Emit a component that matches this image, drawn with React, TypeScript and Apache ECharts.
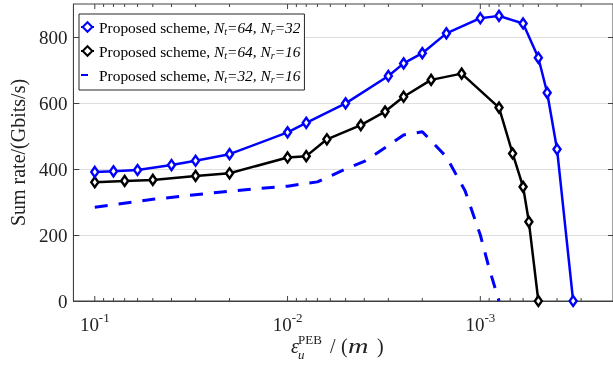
import React, { useEffect, useRef } from 'react';
import * as echarts from 'echarts';

// ---- data ----
const seriesNames = [
  'Proposed scheme, Nt=64, Nr=32',
  'Proposed scheme, Nt=64, Nr=16',
  'Proposed scheme, Nt=32, Nr=16',
];
const ntValues = [64, 64, 32];
const nrValues = [32, 16, 16];

const blueX = [0.1, 0.08, 0.06, 0.04, 0.03, 0.02, 0.01, 0.008, 0.005, 0.003, 0.0025, 0.002, 0.0015, 0.001, 0.0008, 0.0006, 0.0005, 0.00045, 0.0004, 0.00033];
const blueY = [391, 393, 397, 412, 425, 445, 511, 540, 599, 682, 720, 751, 811, 857, 864, 841, 737, 631, 460, 0];

const blackX = [0.1, 0.07, 0.05, 0.03, 0.02, 0.01, 0.008, 0.00625, 0.00417, 0.00312, 0.0025, 0.0018, 0.00125, 0.0008, 0.00068, 0.0006, 0.00056, 0.0005];
const blackY = [360, 364, 367, 379, 387, 435, 439, 490, 533, 574, 619, 670, 689, 586, 447, 346, 240, 0];

const dashX = [0.1, 0.05, 0.02, 0.01, 0.007, 0.005, 0.004, 0.003, 0.0025, 0.002, 0.0015, 0.0012, 0.001, 0.0009, 0.0008];
const dashY = [284, 308, 333, 348, 361, 400, 423, 471, 503, 513, 437, 334, 200, 99, 0];

const majorTicks = [0.1, 0.01, 0.001];
const minorTicks = [
  0.09, 0.08, 0.07, 0.06, 0.05, 0.04, 0.03, 0.02,
  0.009, 0.008, 0.007, 0.006, 0.005, 0.004, 0.003, 0.002,
  0.0009, 0.0008, 0.0007, 0.0006, 0.0005, 0.0004, 0.0003,
];
const yTicks = [0, 200, 400, 600, 800];

const X_MIN = 0.000205;
const X_MAX = 0.1291;
const Y_MIN = 0;
const Y_MAX = 900;
const FONT = 'Liberation Serif';
const AX = '#404040';

export default function App() {
  const ref = useRef<HTMLDivElement>(null);
  useEffect(() => {
    if (!ref.current) return;
    const chart = echarts.init(ref.current, null, { renderer: 'svg' });

    const tickLine = { color: AX, width: 1 };
    const tickData = [
      ...majorTicks.map((v) => [v, 1]),
      ...minorTicks.map((v) => [v, 0]),
    ];

    const option: any = {
      animation: false,
      grid: { left: 65, right: 0, top: 4, bottom: 65, show: true, borderColor: AX, borderWidth: 1, backgroundColor: 'transparent' },
      legend: {
        orient: 'vertical',
        left: 79,
        top: 14,
        padding: [3, 4, 5, 1],
        itemGap: 4,
        itemWidth: 13,
        itemHeight: 12,
        backgroundColor: '#fff',
        borderColor: '#262626',
        borderWidth: 1,
        data: [
          { name: seriesNames[0] },
          { name: seriesNames[1] },
          { name: seriesNames[2], itemStyle: { opacity: 0 }, lineStyle: { type: [7, 10] } },
        ],
        formatter: (name: string) => {
          const i = seriesNames.indexOf(name);
          return `Proposed scheme, {i|N}{s|t}{i|=${ntValues[i]}, N}{s|r}{i|=${nrValues[i]}}`;
        },
        textStyle: {
          fontFamily: FONT,
          fontSize: 15.4,
          color: '#000',
          lineHeight: 20,
          rich: {
            i: { fontFamily: FONT, fontSize: 15.4, fontStyle: 'italic', lineHeight: 20, color: '#000' },
            s: { fontFamily: FONT, fontSize: 10, fontStyle: 'italic', lineHeight: 12, padding: [8, 0, 0, 0], color: '#000' },
          },
        },
      },
      xAxis: [
        {
          type: 'log',
          logBase: 10,
          min: X_MIN,
          max: X_MAX,
          inverse: true,
          position: 'bottom',
          splitLine: { show: false },
          minorTick: { show: false },
          axisLine: { show: true, onZero: false, lineStyle: tickLine },
          axisTick: { show: false },
          axisLabel: {
            show: true,
            customValues: majorTicks,
            margin: 10,
            formatter: (v: number) => `{b|10}{e|${Math.round(Math.log10(v))}}`,
            rich: {
              b: { fontFamily: FONT, fontSize: 19, lineHeight: 26, color: '#222' },
              e: { fontFamily: FONT, fontSize: 13, lineHeight: 13, padding: [0, 0, 13, 0], color: '#222' },
            },
          },
        },
      ],
      yAxis: [
        {
          type: 'value',
          position: 'left',
          min: Y_MIN,
          max: Y_MAX,
          interval: 200,
          name: 'Sum rate/(Gbits/s)',
          nameLocation: 'middle',
          nameGap: 42,
          nameTextStyle: { fontFamily: FONT, fontSize: 20, color: '#222' },
          axisLine: { show: true, onZero: false, lineStyle: tickLine },
          axisTick: { show: true, inside: true, length: 6, customValues: yTicks, lineStyle: tickLine },
          axisLabel: { customValues: yTicks, fontFamily: FONT, fontSize: 19, color: '#222', margin: 6 },
          splitLine: { show: true, lineStyle: { color: '#dedede', width: 1 } },
        },
        {
          type: 'value',
          position: 'right',
          min: Y_MIN,
          max: Y_MAX,
          interval: 200,
          axisLine: { show: true, onZero: false, lineStyle: tickLine },
          axisTick: { show: true, inside: true, length: 5, customValues: yTicks, lineStyle: tickLine },
          axisLabel: { show: false },
          splitLine: { show: false },
        },
      ],
      series: [
        {
          type: 'custom',
          name: 'xticks',
          xAxisIndex: 0,
          yAxisIndex: 0,
          silent: true,
          clip: false,
          z: 1,
          data: tickData,
          renderItem: (params: any, api: any) => {
            const v = api.value(0);
            const major = api.value(1) === 1;
            const len = major ? 5 : 3;
            const b = api.coord([v, Y_MIN]);
            const t = api.coord([v, Y_MAX]);
            const st = { stroke: AX, lineWidth: 1 };
            return {
              type: 'group',
              children: [
                { type: 'line', shape: { x1: b[0], y1: b[1], x2: b[0], y2: b[1] - len }, style: st },
                { type: 'line', shape: { x1: t[0], y1: t[1], x2: t[0], y2: t[1] + len }, style: st },
              ],
            };
          },
        },
        {
          type: 'line',
          name: seriesNames[2],
          data: dashX.map((x, i) => [x, dashY[i]]),
          symbol: 'none',
          lineStyle: { color: '#0000ff', width: 3, type: [13, 11] },
          itemStyle: { color: '#0000ff' },
          z: 2,
        },
        {
          type: 'line',
          name: seriesNames[1],
          data: blackX.map((x, i) => [x, blackY[i]]),
          symbol: 'diamond',
          symbolSize: [7, 10],
          lineStyle: { color: '#000', width: 2.5 },
          itemStyle: { color: '#fff', borderColor: '#000', borderWidth: 2.5 },
          z: 3,
        },
        {
          type: 'line',
          name: seriesNames[0],
          data: blueX.map((x, i) => [x, blueY[i]]),
          symbol: 'diamond',
          symbolSize: [7, 10],
          lineStyle: { color: '#0000ff', width: 2.5 },
          itemStyle: { color: '#fff', borderColor: '#0000ff', borderWidth: 2.5 },
          z: 4,
        },
      ],
      graphic: [
        { type: 'text', x: 291, y: 346, style: { text: 'ε', font: `italic 20px "${FONT}"`, fill: '#222', verticalAlign: 'middle' } },
        { type: 'text', x: 298, y: 339, style: { text: 'PEB', font: `13px "${FONT}"`, fill: '#222', verticalAlign: 'middle' } },
        { type: 'text', x: 298, y: 354, style: { text: 'u', font: `italic 13px "${FONT}"`, fill: '#222', verticalAlign: 'middle' } },
        { type: 'text', x: 330, y: 346, style: { text: '/', font: `20px "${FONT}"`, fill: '#222', verticalAlign: 'middle' } },
        { type: 'text', x: 341, y: 346, style: { text: '(', font: `20px "${FONT}"`, fill: '#222', verticalAlign: 'middle' } },
        { type: 'text', x: 348, y: 346, scaleX: 1.35, style: { text: 'm', font: `italic 21px "${FONT}"`, fill: '#222', verticalAlign: 'middle' } },
        { type: 'text', x: 377, y: 346, style: { text: ')', font: `20px "${FONT}"`, fill: '#222', verticalAlign: 'middle' } },
      ],
    };

    chart.setOption(option);
    return () => chart.dispose();
  }, []);

  return <div ref={ref} style={{ position: 'fixed', left: 0, top: 0, width: 613, height: 366 }} />;
}
